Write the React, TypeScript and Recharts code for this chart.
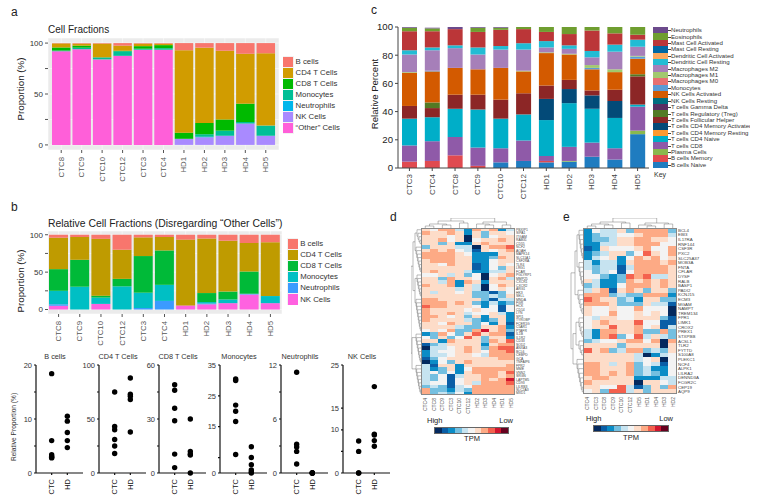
import { Bar, BarChart, CartesianGrid, Cell, Scatter, ScatterChart, XAxis, YAxis } from "recharts";

const FONT = "Liberation Sans, Arial, sans-serif";

// panel a
const aCategories = ["CTC8", "CTC9", "CTC10", "CTC12", "CTC3", "CTC4", "HD1", "HD2", "HD3", "HD4", "HD5"];
const aOther = [92, 94, 84, 87.5, 93.5, 93.5, 0, 0, 0, 0, 0];
const aNk = [0, 0, 0, 0, 0, 0, 6, 7.5, 9, 21, 9];
const aNeutrophils = [0, 0, 0, 0, 0, 0, 0, 0.5, 0, 0, 0];
const aMonocytes = [0.7, 1.5, 2, 4.5, 1, 1.5, 0, 2.5, 5, 1.5, 10];
const aCd8 = [3, 2, 0, 0.5, 2.5, 3, 6, 11, 11, 18, 0];
const aCd4 = [4, 2, 13.5, 5, 2.5, 1.5, 81, 74, 67.5, 49, 71];
const aB = [0.3, 0.5, 0.5, 2.5, 0.5, 0.5, 7, 4.5, 7.5, 10.5, 10];
const aLegend = ["B cells", "CD4 T Cells", "CD8 T Cells", "Monocytes", "Neutrophils", "NK Cells", "“Other” Cells"];

// panel b
const bCategories = ["CTC8", "CTC9", "CTC10", "CTC12", "CTC3", "CTC4", "HD1", "HD2", "HD3", "HD4", "HD5"];
const bNk = [5, 0, 7.5, 0, 0, 0, 5.5, 7, 8.5, 20, 8.5];
const bNeutrophils = [2, 0, 0, 0, 2, 11.5, 0, 1, 0, 1, 0];
const bMonocytes = [18, 30.5, 8.5, 31, 20.5, 21.5, 0, 2, 5, 0, 9.5];
const bCd8 = [29, 36, 2.5, 10, 49, 46, 0, 12, 10.5, 30, 0];
const bCd4 = [42, 30.5, 76, 39, 25, 18, 88, 73, 68, 38, 72];
const bB = [4, 3, 5.5, 20, 3.5, 3, 6.5, 5, 8, 11, 10];
const bLegend = ["B cells", "CD4 T Cells", "CD8 T Cells", "Monocytes", "Neutrophils", "NK Cells"];

// dot panels
const dotGroups = ["CTC", "HD"];
const bCellsCtc = [18.4, 6, 3.4, 3.1, 2.9, 2.8];
const bCellsHd = [10.5, 9.6, 7.5, 6, 4.7];
const cd4Ctc = [75, 43, 40, 31, 25, 18];
const cd4Hd = [88, 73, 71, 68, 38];
const cd8Ctc = [49, 46, 36, 29, 10.5, 3];
const cd8Hd = [30, 12, 10.5, 10, 0];
const monoCtc = [30.5, 30, 22, 20, 16.7, 6];
const monoHd = [8.5, 5, 2.7, 1, 0.3, 0];
const neutCtc = [11.2, 3.2, 2.9, 2.4, 1];
const neutHd = [0, 0, 0, 0, 0];
const nkCtc = [7.4, 5, 0, 0];
const nkHd = [20, 9, 8.8, 7.5, 6.2];

// panel c
const cCategories = ["CTC3", "CTC4", "CTC8", "CTC9", "CTC10", "CTC12", "HD1", "HD2", "HD3", "HD4", "HD5"];
const cBNaive = [0, 0, 0, 0, 4, 5, 4, 4.5, 8, 6, 24];
const cBMemory = [4.5, 5, 9, 1.5, 0, 0, 1, 0, 0, 0, 0];
const cPlasma = [0, 0, 0, 0, 0, 0, 0, 0.5, 0, 0, 2.5];
const cCd8 = [11.5, 14, 13, 13, 10, 14.5, 3.5, 10, 10, 8, 17];
const cCd4Naive = [19, 17, 20, 27, 21, 18.5, 25.5, 31, 24, 21.5, 1.5];
const cCd4Resting = [0, 0, 0, 0, 0, 0, 0, 0, 0, 0, 0];
const cCd4Activated = [0, 0, 0, 0, 0, 0, 15, 10, 9.5, 12, 0];
const cFollicular = [9, 6.5, 10, 10.5, 13.5, 15, 9.5, 6.5, 3.5, 8, 20];
const cTreg = [0, 4, 0, 0, 0, 0, 0, 0, 0, 0, 1.5];
const cGammaDelta = [0, 0, 0, 0, 0, 0, 0, 0, 0, 0, 0];
const cNkResting = [0, 0, 0, 0, 0, 0, 0, 0, 0, 0, 0];
const cNkActivated = [23.5, 22, 19, 18, 22.5, 15.5, 23, 18, 15, 12.5, 11];
const cMonocytes = [0, 0.5, 0, 0, 0, 0, 0, 0, 1, 0, 1.5];
const cM0 = [0, 0, 0, 0, 0, 0, 0, 0, 0, 0, 0];
const cM1 = [0.5, 0, 0, 0, 0, 0.5, 0.5, 0.5, 2, 2, 0.5];
const cM2 = [12.5, 14.5, 14, 10.5, 13, 15, 3.5, 3.5, 5.5, 12.5, 6.5];
const cDcResting = [3, 2, 2, 5, 2.5, 4.5, 4.5, 2.5, 4.5, 5, 5];
const cDcActivated = [0, 0, 0, 0, 0, 0, 0, 0, 0, 0, 0];
const cMastResting = [0, 0, 0, 0, 0, 0, 0, 0, 0, 0, 0];
const cMastActivated = [13.5, 11.5, 11.5, 11, 11.5, 10, 6.5, 8, 14.5, 8, 3.5];
const cEosinophils = [2.5, 2, 0, 3, 1.5, 1.5, 3.5, 5, 2.5, 4.5, 5.5];
const cNeutrophils = [0.5, 0.5, 1.5, 0.5, 0.5, 0, 0, 0, 0, 0, 0];

const cSeries: [string, number[], string][] = [
  ["B cells Naive", cBNaive, "#1f7cc0"],
  ["B cells Memory", cBMemory, "#e04a50"],
  ["Plasma Cells", cPlasma, "#8ab84e"],
  ["T cells CD8", cCd8, "#8f5aa8"],
  ["T cells CD4 Naive", cCd4Naive, "#00aec8"],
  ["T cells CD4 Memory Resting", cCd4Resting, "#ff9a30"],
  ["T cells CD4 Memory Activated", cCd4Activated, "#034a78"],
  ["T cells Follicular Helper", cFollicular, "#8c2626"],
  ["T cells Regulatory (Treg)", cTreg, "#537a24"],
  ["T cells Gamma Delta", cGammaDelta, "#5a2e62"],
  ["NK Cells Resting", cNkResting, "#006e80"],
  ["NK Cells Activated", cNkActivated, "#d35a00"],
  ["Monocytes", cMonocytes, "#5b9bd5"],
  ["Macrophages M0", cM0, "#e87070"],
  ["Macrophages M1", cM1, "#a2c96e"],
  ["Macrophages M2", cM2, "#a67fb9"],
  ["Dendritic Cell Resting", cDcResting, "#22bcd4"],
  ["Dendritic Cell Activated", cDcActivated, "#fba95e"],
  ["Mast Cell Resting", cMastResting, "#0068a3"],
  ["Mast Cell Activated", cMastActivated, "#bb3638"],
  ["Eosinophils", cEosinophils, "#6f9e30"],
  ["Neutrophils", cNeutrophils, "#6c4a8c"],
];

// heatmaps: one digit per column, 0 = High ... a = Low
const heatColors = ["#04295e", "#0a5ea6", "#0a8cc6", "#74bfe0", "#c6e3f0", "#f3f3f3", "#fddcc8", "#fdaa85", "#f4614e", "#d1152e", "#67001f"];
const dColumns = ["CTC4", "CTC8", "CTC9", "CTC3", "CTC10", "CTC12", "HD2", "HD3", "HD4", "HD1", "HD5"];
const dRows = [
  "65774276724", "76676263665", "66656063566", "66756056676",
  "66362267666", "36664406778", "67675416567", "77776522266",
  "77776622376", "67776622566", "66576612565", "66666612536",
  "67666422446", "55646350567", "66376650674", "66472762666",
  "76672640576", "66664640565", "64665633135", "66666633436",
  "77666663144", "77767632423", "87766652515", "76666565515",
  "76676455642", "77656362662", "76666432362", "66576635261",
  "66664336672", "56573379673", "23753686771", "53635863662",
  "66276663768", "13466662677", "04456763788", "24556765778",
  "24456654777", "13566666677", "02536766666", "41662666667",
  "42362577777", "45352677768", "43514667767", "43515667679",
  "45515647778", "34314577777", "73324377777", "73435277777",
];
const dGenes = [
  "PBXIP1", "SIPA1", "ITGAM", "RAB31", "CD55", "NCF2", "AOAH", "MAPK14", "SLC11A1", "CSF2RA", "TLR4", "LRG1",
  "FCAR", "PGLYRP1", "MMP25", "CXCR1", "CXCR2", "ARG1", "HK3", "SELL", "MNDA", "FGR", "HCK", "CD14",
  "LYN", "SPI1", "TYROBP", "FCER1G", "C5AR1", "PTAFR", "IL1B", "IL1R2", "CD33", "SOD2", "ANXA3", "BCL6",
  "CEBPD", "GCA", "TNFAIP6", "FPR2", "MME", "VNN2", "SRGN", "LAPTM5", "CD93", "LILRB3", "SLC2A3", "MXD1",
];
const eColumns = ["CTC4", "CTC3", "CTC8", "CTC9", "CTC10", "CTC12", "HD5", "HD1", "HD4", "HD3", "HD2"];
const eRows = [
  "25446377773", "23445567774", "23346677665", "22446677755",
  "12655567557", "23466358657", "24562576756", "42442677767",
  "43441477776", "53451577776", "55323878446", "64223767676",
  "34225777676", "46716763663", "77734337772", "87663426633",
  "77763336441", "65565575550", "65575565650", "54665566631",
  "56766685511", "56686675614", "42776673373", "42783584643",
  "34556775707", "66663666606", "86734773436", "66666640245",
  "66666645605", "77646735415", "77666734225", "77676734325",
  "67766622244", "76666606654", "66558413637", "56388463666",
];
const eGenes = [
  "BCL4", "EBI3", "IL17RA", "RNF144", "CSF3R", "PXC2", "SLC25A37", "MOB3A", "FNTA", "CFLAR", "DYSF", "RALB",
  "BASP1", "PADI2", "KCNJ15", "ECM3", "MGAM", "NAMPT", "TREM134", "FPR1", "LIMK1", "CROX2", "PREX1", "STXPBB",
  "ACSL1", "TLR2", "FYTTD", "S100A8", "PLEKC1", "NCF4", "ALPK1", "LILRA2", "DENND3A", "FCGR2C", "CEP19", "AQP9",
];

const aColors = ["#f8766d", "#d19c00", "#00ba00", "#00bf96", "#00b6eb", "#a98aff", "#ff5fd9"];
const bColors = ["#f8766d", "#bf9b00", "#00ba38", "#00bfc4", "#3b9bff", "#ff61e0"];

const toRows = (names: string[], cols: Record<string, number[]>) =>
  names.map((name, i) => {
    const row: Record<string, string | number> = { name };
    Object.keys(cols).forEach((k) => (row[k] = cols[k][i]));
    return row;
  });

const aData = toRows(aCategories, { other: aOther, nk: aNk, neut: aNeutrophils, mono: aMonocytes, cd8: aCd8, cd4: aCd4, b: aB });
const bData = toRows(bCategories, { nk: bNk, neut: bNeutrophils, mono: bMonocytes, cd8: bCd8, cd4: bCd4, b: bB });
const cData = toRows(cCategories, Object.fromEntries(cSeries.map(([n, v]) => [n, v])));

const RotTick = ({ x, y, payload, size, fill, shift }: any) => (
  <text
    transform={`rotate(-90 ${x} ${y})`}
    x={x - (shift ?? 0)}
    y={y}
    textAnchor="end"
    dominantBaseline="central"
    fontSize={size}
    fill={fill ?? "#222"}
    fontFamily={FONT}
  >
    {payload.value}
  </text>
);

const Label = ({ x, y, size, children, anchor, rotate, color }: any) => {
  const tf = anchor === "middle" ? "translate(-50%, -50%)" : anchor === "end" ? "translate(-100%, -50%)" : "translateY(-50%)";
  return (
    <div
      style={{
        position: "absolute",
        left: x,
        top: y,
        fontSize: size,
        fontFamily: FONT,
        color: color ?? "#222",
        whiteSpace: "nowrap",
        lineHeight: 1,
        transform: rotate ? `${tf} rotate(-90deg)` : tf,
      }}
    >
      {children}
    </div>
  );
};

const GgLegend = ({ x, y, names, colors, size }: any) => (
  <div style={{ position: "absolute", left: x, top: y, background: "#f2f2f2" }}>
    {names.map((n: string, i: number) => (
      <div key={n} style={{ display: "flex", alignItems: "center", height: size }}>
        <div style={{ width: size - 1, height: size - 1, margin: "0.5px", background: colors[i] }} />
      </div>
    ))}
    {names.map((n: string, i: number) => (
      <Label key={n} x={size + 2} y={size * (i + 0.5)} size={7.8} color="#333">
        {n}
      </Label>
    ))}
  </div>
);

const StackPanel = ({ left, top, width, height, plotTop, yWidth, xHeight, data, keys, colors, domain, barSize, padding }: any) => (
  <div style={{ position: "absolute", left, top }}>
    <BarChart width={width} height={height} data={data} margin={{ top: plotTop, right: 0, bottom: 0, left: 0 }} barSize={barSize}>
      <CartesianGrid fill="#ebebeb" stroke="#fff" strokeWidth={0.5} />
      <XAxis
        dataKey="name"
        interval={0}
        height={xHeight}
        padding={padding}
        axisLine={false}
        tickSize={3}
        stroke="#555"
        tick={(p: any) => <RotTick {...p} size={7.8} shift={2} />}
      />
      <YAxis
        type="number"
        domain={domain}
        ticks={[0, 25, 50, 75, 100]}
        width={yWidth}
        axisLine={false}
        tickSize={3}
        stroke="#555"
        tick={{ fontSize: 8, fill: "#333", fontFamily: FONT }}
        tickFormatter={(v: number) => (v % 50 === 0 ? String(v) : "")}
      />
      {keys.map((k: string, i: number) => (
        <Bar key={k} dataKey={k} stackId="s" fill={colors[i]} isAnimationActive={false} />
      ))}
    </BarChart>
  </div>
);

const Dot = ({ cx, cy }: any) => <circle cx={cx} cy={cy} r={2.7} fill="#000" />;

const DotPanel = ({ title, axisX, ctc, hd, max, ticks, labels }: any) => {
  const ctcPts = ctc.map((v: number) => ({ x: 1, y: v }));
  const hdPts = hd.map((v: number) => ({ x: 2, y: v }));
  return (
    <div style={{ position: "absolute", left: axisX - 22, top: 360 }}>
      <ScatterChart width={72} height={141} margin={{ top: 5, right: 3, bottom: 0, left: 0 }}>
        <XAxis
          type="number"
          dataKey="x"
          domain={[0, 3]}
          ticks={[1, 2]}
          height={28}
          stroke="#111"
          strokeWidth={1.2}
          tickSize={2}
          tick={(p: any) => <RotTick {...p} payload={{ value: dotGroups[p.payload.value - 1] }} size={7.5} shift={2} />}
        />
        <YAxis
          type="number"
          dataKey="y"
          domain={[0, max]}
          ticks={ticks}
          width={22}
          interval={0}
          stroke="#111"
          strokeWidth={1.2}
          tickSize={2}
          tick={{ fontSize: 7.5, fill: "#333", fontFamily: FONT }}
          tickFormatter={(v: number) => (labels.includes(v) ? String(v) : "")}
        />
        <Scatter data={ctcPts} shape={Dot} isAnimationActive={false} />
        <Scatter data={hdPts} shape={Dot} isAnimationActive={false} />
      </ScatterChart>
      <Label x={22 + 19} y={-3} size={7.3} anchor="middle" color="#333">
        {title}
      </Label>
    </div>
  );
};

const Heatmap = ({ left, top, plotW, plotH, rows, columns, genes, geneSize, labelW }: any) => {
  const keys = rows.map((_: string, i: number) => `r${i}`);
  const data = columns.map((name: string) => {
    const row: Record<string, string | number> = { name };
    keys.forEach((k: string) => (row[k] = 1));
    return row;
  });
  return (
    <div style={{ position: "absolute", left, top }}>
      <BarChart width={plotW + labelW} height={plotH + 28} data={data} margin={{ top: 0, right: 0, bottom: 0, left: 0 }} barCategoryGap={0} barGap={0}>
        <XAxis
          dataKey="name"
          interval={0}
          height={28}
          axisLine={false}
          tickLine={false}
          tickSize={1}
          tick={(p: any) => <RotTick {...p} size={5} fill="#555" shift={0} />}
        />
        <YAxis
          type="number"
          orientation="right"
          reversed
          domain={[0, rows.length]}
          ticks={rows.map((_: string, i: number) => i + 0.5)}
          interval={0}
          width={labelW}
          axisLine={false}
          tickLine={false}
          tickSize={1}
          tickMargin={0}
          tick={{ fontSize: geneSize, fill: "#444", fontFamily: FONT }}
          tickFormatter={(v: number) => genes[v - 0.5]}
        />
        {rows.map((row: string, ri: number) => (
          <Bar key={ri} dataKey={keys[ri]} stackId="h" isAnimationActive={false} shapeRendering="crispEdges">
            {columns.map((c: string, ci: number) => (
              <Cell key={c} fill={heatColors[parseInt(row[ci], 11)]} />
            ))}
          </Bar>
        ))}
      </BarChart>
      <div style={{ position: "absolute", left: 0, top: 0, width: plotW, height: plotH, boxSizing: "border-box", border: "0.6px solid #888" }} />
    </div>
  );
};

type Tree = number | [number, Tree, Tree];

// caterpillar cluster for the decorative row dendrograms
const ladder = (from: number, to: number, h: number): Tree => {
  let node: Tree = to;
  for (let i = to - 1; i >= from; i--) node = [(h * (to - i)) / (to - from), i, node];
  return node;
};

const Dendro = ({ left, top, width, height, tree, cell, side }: any) => {
  const parts: string[] = [];
  const pt = (pos: number, h: number) => (side === "top" ? `${pos} ${height - h}` : `${width - h} ${pos}`);
  const walk = (t: Tree): [number, number] => {
    if (typeof t === "number") return [(t + 0.5) * cell, 0];
    const [h, a, b] = t;
    const [pa, ha] = walk(a);
    const [pb, hb] = walk(b);
    parts.push(`M${pt(pa, ha)}L${pt(pa, h)}L${pt(pb, h)}L${pt(pb, hb)}`);
    return [(pa + pb) / 2, h];
  };
  walk(tree);
  return (
    <svg style={{ position: "absolute", left, top }} width={width} height={height}>
      <path d={parts.join("")} fill="none" stroke="#777" strokeWidth={0.5} />
    </svg>
  );
};

const ColorBar = ({ x, y, width, highX, lowX, tpmX, labelY, tpmY }: any) => (
  <>
    <div style={{ position: "absolute", left: x, top: y, width, height: 7, display: "flex", border: "0.5px solid #666", boxSizing: "border-box" }}>
      {heatColors.map((c) => (
        <div key={c} style={{ flex: 1, background: c }} />
      ))}
    </div>
    <Label x={highX} y={labelY} size={7.5}>High</Label>
    <Label x={lowX} y={labelY} size={7.5} anchor="end">Low</Label>
    <Label x={tpmX} y={tpmY} size={7.5} anchor="middle">TPM</Label>
  </>
);

export default function App() {
  return (
    <div style={{ position: "absolute", left: 0, top: 0, width: 759, height: 501, overflow: "hidden", background: "#fff" }}>
      <Label x={11} y={12} size={12}>a</Label>
      <Label x={48} y={30} size={10}>Cell Fractions</Label>
      <Label x={21} y={89} size={9.8} anchor="middle" rotate>Proportion (%)</Label>
      <StackPanel
        left={0} top={30} width={279} height={160} plotTop={8} yWidth={48} xHeight={40}
        data={aData} keys={["other", "nk", "neut", "mono", "cd8", "cd4", "b"]}
        colors={[...aColors].reverse()} domain={[-5, 105]} barSize={18.5} padding={{ left: 3, right: 3 }}
      />
      <GgLegend x={282.5} y={56} names={aLegend} colors={aColors} size={11.1} />

      <Label x={11} y={207} size={12}>b</Label>
      <Label x={48} y={224} size={10.4}>Relative Cell Fractions (Disregarding “Other Cells”)</Label>
      <Label x={21} y={281} size={9.8} anchor="middle" rotate>Proportion (%)</Label>
      <StackPanel
        left={0} top={223} width={282} height={131} plotTop={8} yWidth={48} xHeight={40}
        data={bData} keys={["nk", "neut", "mono", "cd8", "cd4", "b"]}
        colors={[...bColors].reverse()} domain={[-6, 105]} barSize={19} padding={{ left: 0, right: 1 }}
      />
      <GgLegend x={287} y={238} names={bLegend} colors={bColors} size={11.2} />

      <Label x={14} y={427} size={6.6} anchor="middle" rotate color="#333">Relative Proportion (%)</Label>
      <DotPanel title="B cells" axisX={36} ctc={bCellsCtc} hd={bCellsHd} max={20} ticks={[0, 5, 10, 15, 20]} labels={[0, 10, 20]} />
      <DotPanel title="CD4 T Cells" axisX={99} ctc={cd4Ctc} hd={cd4Hd} max={100} ticks={[0, 25, 50, 75, 100]} labels={[0, 50, 100]} />
      <DotPanel title="CD8 T Cells" axisX={159} ctc={cd8Ctc} hd={cd8Hd} max={60} ticks={[0, 15, 30, 45, 60]} labels={[0, 30, 60]} />
      <DotPanel title="Monocytes" axisX={220} ctc={monoCtc} hd={monoHd} max={35} ticks={[0, 5, 15, 25, 35]} labels={[0, 15, 25, 35]} />
      <DotPanel title="Neutrophils" axisX={281} ctc={neutCtc} hd={neutHd} max={12} ticks={[0, 3, 6, 9, 12]} labels={[0, 6, 12]} />
      <DotPanel title="NK Cells" axisX={343} ctc={nkCtc} hd={nkHd} max={25} ticks={[0, 5, 10, 15, 25]} labels={[0, 10, 15, 25]} />

      <Label x={371} y={10} size={12}>c</Label>
      <Label x={375} y={94} size={9.6} anchor="middle" rotate>Relative Percent</Label>
      <div style={{ position: "absolute", left: 370, top: 20 }}>
        <BarChart width={281} height={193} data={cData} margin={{ top: 7, right: 2, bottom: 0, left: 0 }} barSize={15}>
          <XAxis
            dataKey="name"
            interval={0}
            height={45}
            stroke="#444"
            tickSize={3}
            tick={(p: any) => <RotTick {...p} size={8} shift={1} />}
          />
          <YAxis
            type="number"
            domain={[0, 100]}
            ticks={[0, 20, 40, 60, 80, 100]}
            width={28}
            stroke="#444"
            tickSize={3}
            tick={{ fontSize: 9.6, fill: "#222", fontFamily: FONT }}
          />
          {cSeries.map(([name, , color]) => (
            <Bar key={name} dataKey={name} stackId="c" fill={color} isAnimationActive={false} />
          ))}
        </BarChart>
      </div>
      <div style={{ position: "absolute", left: 653, top: 27, width: 97, height: 141, overflow: "hidden" }}>
        {[...cSeries].reverse().map(([name, , color], i) => (
          <div key={name}>
            <div style={{ position: "absolute", left: 0, top: i * 6.41, width: 15, height: 6.41, background: color }} />
            <div style={{ position: "absolute", left: 15, top: (i + 0.5) * 6.41, width: 3, height: 0.6, background: "#444" }} />
            <Label x={18} y={(i + 0.5) * 6.41} size={6.1} color="#333">{name}</Label>
          </div>
        ))}
      </div>
      <Label x={654} y={174} size={7} color="#333">Key</Label>

      <Label x={390} y={217} size={12}>d</Label>
      <Dendro left={421} top={218} width={94} height={10} cell={94 / 11} side="top"
        tree={[10, [7, [4, [2, 0, 1], [3, 2, 3]], [5, 4, 5]], [6, [4, 6, [3, 7, 8]], [3, 9, 10]]]} />
      <Dendro left={411} top={228} width={10} height={167} cell={167 / 48} side="left"
        tree={[10, [8, [6, ladder(0, 4, 4), ladder(5, 12, 5)], [6, ladder(13, 19, 4), ladder(20, 29, 5)]], [9, ladder(30, 38, 5), ladder(39, 47, 5)]]} />
      <Heatmap left={421} top={228} plotW={94} plotH={167} rows={dRows} columns={dColumns} genes={dGenes} geneSize={3.4} labelW={30} />
      <ColorBar x={434} y={427} width={75} highX={427} lowX={513} tpmX={472} labelY={421} tpmY={439} />

      <Label x={563} y={217} size={12}>e</Label>
      <Dendro left={583} top={218} width={94} height={10} cell={94 / 11} side="top"
        tree={[10, [6, [4, [2, 0, 1], [3, 2, 3]], [5, 4, 5]], [5, [3, 6, [2, 7, 8]], [4, 9, 10]]]} />
      <Dendro left={570} top={228} width={13} height={166} cell={166 / 36} side="left"
        tree={[12, [8, [6, ladder(0, 6, 4), ladder(7, 12, 4)], ladder(13, 18, 5)], [10, [7, ladder(19, 23, 4), ladder(24, 27, 4)], ladder(28, 35, 6)]]} />
      <Heatmap left={583} top={228} plotW={94} plotH={166} rows={eRows} columns={eColumns} genes={eGenes} geneSize={4.4} labelW={30} />
      <ColorBar x={593} y={425} width={76} highX={586} lowX={673} tpmX={631} labelY={419} tpmY={438} />
    </div>
  );
}
